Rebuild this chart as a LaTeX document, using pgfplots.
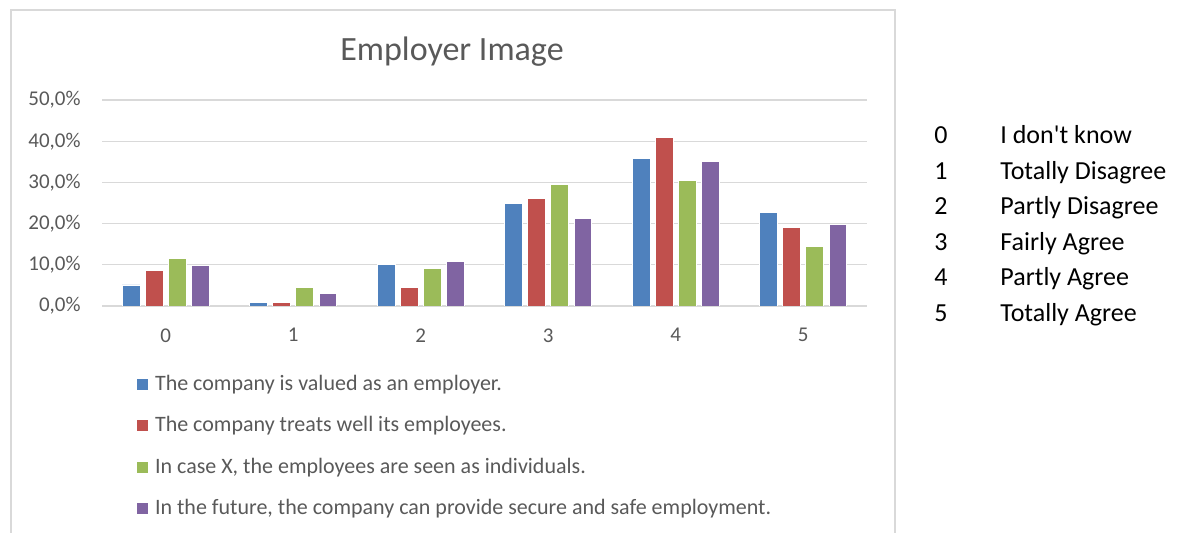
\documentclass[border=0pt]{standalone}
\usepackage{fontspec}
\setmainfont{Carlito}
\usepackage{pgfplots}
\pgfplotsset{compat=1.18}
\definecolor{xblue}{HTML}{4F81BD}
\definecolor{xred}{HTML}{C0504D}
\definecolor{xgreen}{HTML}{9BBB59}
\definecolor{xpurple}{HTML}{8064A2}
\definecolor{xgrid}{HTML}{D9D9D9}
\definecolor{xtext}{HTML}{595959}
\begin{document}
\begin{tikzpicture}
\path[use as bounding box] (0pt,0pt) rectangle (592pt,266.5pt);
\draw[xgrid, line width=0.75pt] (5.5pt,-1pt) -- (5.5pt,261.5pt) -- (447.5pt,261.5pt) -- (447.5pt,-1pt);
\node[text=xtext, font=\fontsize{17}{20}\selectfont] at (226pt,240.5pt) {Employer Image};
\begin{axis}[
  at={(51pt,113.5pt)}, anchor=south west,
  scale only axis, width=382.5pt, height=103pt,
  xmin=-0.5, xmax=5.5, ymin=0, ymax=50,
  xtick={0,1,2,3,4,5},
  ytick={0,10,20,30,40,50},
  ymajorgrids, grid style={xgrid, line width=0.6pt},
  axis line style={draw=none},
  axis x line*=bottom,
  x axis line style={xgrid, line width=0.6pt, draw=xgrid},
  major tick length=0pt,
  /pgf/number format/assume math mode=true,
  tick label style={text=xtext, font=\fontsize{10.5}{12}\selectfont},
  yticklabel={\pgfmathprintnumber[fixed,fixed zerofill,precision=1,use comma]{\tick}\%},
  yticklabel style={inner sep=0pt, anchor=east, xshift=-10.5pt},
  xticklabel style={inner sep=0pt, anchor=north, yshift=-11pt},
  ybar, bar width=0.14,
  every axis plot/.append style={draw=white, line width=0.4pt},
  legend cell align=left,
  legend image code/.code={\fill[#1, draw=none] (0pt,-2.75pt) rectangle (5.5pt,2.75pt);},
  legend style={at={(0.0453,-0.32)}, anchor=north west, draw=none, fill=none,
    inner sep=0pt, row sep=8.5pt, text=xtext, font=\fontsize{11}{13}\selectfont,
    nodes={inner sep=1.5pt},
    /tikz/every odd column/.append style={column sep=2pt}},
]
\addplot[fill=xblue, bar shift=-0.272] coordinates {(0,5.1) (1,0.9) (2,10.1) (3,24.8) (4,35.8) (5,22.6)};
\addlegendentry{The company is valued as an employer.}
\addplot[fill=xred, bar shift=-0.09] coordinates {(0,8.7) (1,0.9) (2,4.4) (3,26.2) (4,40.9) (5,19.1)};
\addlegendentry{The company treats well its employees.}
\addplot[fill=xgreen, bar shift=0.09] coordinates {(0,11.5) (1,4.4) (2,9.1) (3,29.4) (4,30.5) (5,14.5)};
\addlegendentry{In case X, the employees are seen as individuals.}
\addplot[fill=xpurple, bar shift=0.272] coordinates {(0,9.8) (1,3.0) (2,10.8) (3,21.2) (4,35.1) (5,19.8)};
\addlegendentry{In the future, the company can provide secure and safe employment.}
\end{axis}
\begin{scope}[every node/.style={font=\fontsize{13}{15}\selectfont, inner sep=0pt}]
\foreach \d/\t [count=\i from 0] in {0/I don\textquotesingle t know,1/Totally Disagree,2/Partly Disagree,3/Fairly Agree,4/Partly Agree,5/Totally Agree}{
  \node[anchor=base] at (470.5pt,{199pt-\i*17.8pt-4.3pt}) {\d};
  \node[anchor=base west] at (500pt,{199pt-\i*17.8pt-4.3pt}) {\t};
}
\end{scope}
\end{tikzpicture}
\end{document}
